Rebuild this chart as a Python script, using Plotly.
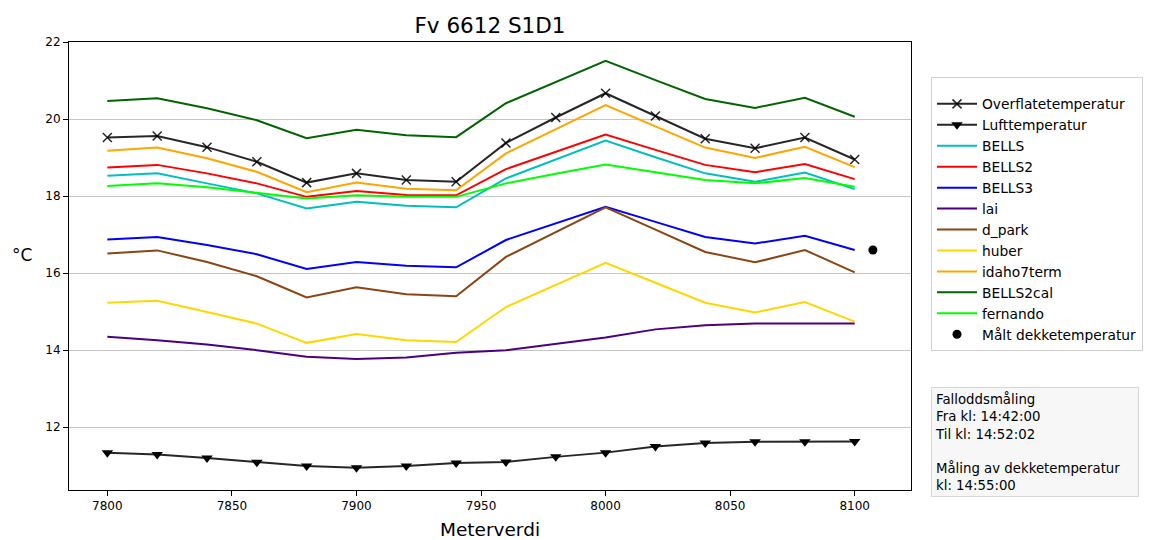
import plotly.graph_objects as go

meter = [7800, 7820, 7840, 7860, 7880, 7900, 7920, 7940, 7960, 7980, 8000, 8020, 8040, 8060, 8080, 8100]

overflate = [19.52, 19.56, 19.27, 18.89, 18.35, 18.59, 18.42, 18.37, 19.38, 20.04, 20.67, 20.08, 19.49, 19.24, 19.52, 18.95]
luft = [11.34, 11.29, 11.20, 11.09, 10.99, 10.95, 10.99, 11.07, 11.10, 11.23, 11.34, 11.50, 11.59, 11.62, 11.62, 11.63]
bells = [18.53, 18.59, 18.33, 18.07, 17.68, 17.85, 17.75, 17.71, 18.46, 18.95, 19.44, 19.01, 18.59, 18.37, 18.61, 18.18]
bells2 = [18.74, 18.81, 18.59, 18.33, 17.98, 18.13, 18.03, 18.02, 18.70, 19.15, 19.60, 19.20, 18.81, 18.62, 18.83, 18.44]
bells3 = [16.87, 16.94, 16.73, 16.49, 16.11, 16.29, 16.19, 16.15, 16.86, 17.29, 17.72, 17.33, 16.94, 16.77, 16.97, 16.60]
lai = [14.35, 14.26, 14.15, 14.00, 13.83, 13.77, 13.81, 13.93, 14.00, 14.17, 14.33, 14.54, 14.65, 14.69, 14.69, 14.69]
d_park = [16.51, 16.59, 16.29, 15.92, 15.37, 15.63, 15.45, 15.40, 16.42, 17.07, 17.71, 17.13, 16.55, 16.28, 16.60, 16.02]
huber = [15.23, 15.28, 14.99, 14.69, 14.19, 14.42, 14.26, 14.21, 15.12, 15.70, 16.27, 15.75, 15.23, 14.98, 15.25, 14.74]
idaho7term = [19.18, 19.26, 18.98, 18.63, 18.10, 18.35, 18.19, 18.15, 19.11, 19.74, 20.36, 19.81, 19.26, 18.99, 19.28, 18.75]
bells2cal = [20.47, 20.54, 20.28, 19.97, 19.50, 19.72, 19.58, 19.53, 20.41, 20.96, 21.51, 21.01, 20.52, 20.29, 20.55, 20.06]
fernando = [18.26, 18.33, 18.23, 18.09, 17.94, 18.02, 17.98, 17.98, 18.33, 18.58, 18.82, 18.62, 18.42, 18.33, 18.47, 18.24]

maalt_x = [8107.3]
maalt_y = [16.60]

model_names = ["BELLS", "BELLS2", "BELLS3", "lai", "d_park", "huber", "idaho7term", "BELLS2cal", "fernando"]
model_values = [bells, bells2, bells3, lai, d_park, huber, idaho7term, bells2cal, fernando]
model_colors = ["#00bfbf", "#ff0000", "#0000ff", "#4b0082", "#8b4513", "#ffd700", "#ffa500", "#006400", "#00ff00"]

info_text = "Falloddsmåling<br>Fra kl: 14:42:00<br>Til kl: 14:52:02<br><br>Måling av dekketemperatur<br>kl: 14:55:00"

FONT = "DejaVu Sans"

fig = go.Figure()
fig.add_trace(go.Scatter(
    x=meter, y=overflate, name="Overflatetemperatur", mode="lines+markers",
    line=dict(color="rgba(0,0,0,0.85)", width=2),
    marker=dict(symbol="x-thin", size=9, line=dict(color="rgba(0,0,0,0.85)", width=1.5)),
))
fig.add_trace(go.Scatter(
    x=meter, y=luft, name="Lufttemperatur", mode="lines+markers",
    line=dict(color="rgba(0,0,0,0.85)", width=2),
    marker=dict(symbol="triangle-down", size=10, color="black"),
))
for nm, vals, col in zip(model_names, model_values, model_colors):
    fig.add_trace(go.Scatter(x=meter, y=vals, name=nm, mode="lines",
                             line=dict(color=col, width=2)))
fig.add_trace(go.Scatter(
    x=maalt_x, y=maalt_y, name="Målt dekketemperatur", mode="markers",
    marker=dict(symbol="circle", size=9, color="black"),
))

fig.update_layout(
    width=1149, height=540,
    margin=dict(l=69, r=238, t=42, b=50),
    paper_bgcolor="white", plot_bgcolor="white",
    font=dict(family=FONT, size=12, color="black"),
    title=dict(text="Fv 6612 S1D1", x=0.5, xref="paper", xanchor="center",
               y=1 - 25 / 540, yanchor="middle", font=dict(size=21.5, family=FONT)),
    showlegend=True,
    legend=dict(xref="container", yref="container", x=931 / 1149, xanchor="left",
                y=1 - 77 / 540, yanchor="top", maxheight=420,
                bgcolor="white", bordercolor="#d0d0d0", borderwidth=1,
                font=dict(size=13.8, family=FONT), itemwidth=40,
                title=dict(text=" ", font=dict(size=8)),
                tracegroupgap=0),
    annotations=[
        dict(text=info_text, xref="paper", yref="paper", x=1.0238, y=0.2299,
             xanchor="left", yanchor="top", align="left", showarrow=False,
             bgcolor="#f7f7f7", bordercolor="#d8d8d8", borderwidth=1, borderpad=3,
             width=200, font=dict(size=13.3, family=FONT)),
        dict(text="°C", xref="paper", yref="paper", x=-0.0558, y=0.5246,
             xanchor="center", yanchor="middle", showarrow=False,
             font=dict(size=17, family=FONT)),
    ],
)
fig.update_xaxes(
    range=[7784.6, 8122.6], tickmode="array", tickvals=[7800, 7850, 7900, 7950, 8000, 8050, 8100],
    showgrid=False, zeroline=False, showline=True, mirror=True, linecolor="black", linewidth=1,
    ticks="outside", ticklen=5, tickcolor="black", automargin=False,
    title=dict(text="Meterverdi", font=dict(size=18.5, family=FONT), standoff=17),
)
fig.update_yaxes(
    range=[10.37, 22.0], tickmode="array", tickvals=[12, 14, 16, 18, 20, 22],
    showgrid=True, gridcolor="#c4c4c4", gridwidth=1, zeroline=False,
    showline=True, mirror=True, linecolor="black", linewidth=1,
    ticks="outside", ticklen=5, tickcolor="black", automargin=False,
)

fig.write_html("out.html")
